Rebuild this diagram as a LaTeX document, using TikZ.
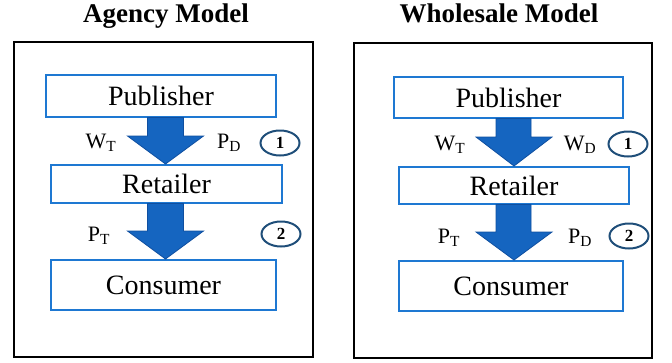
\documentclass[tikz,border=0pt]{standalone}
\usepackage{fontspec}
\setmainfont{Liberation Serif}
\usetikzlibrary{shapes.geometric}
\definecolor{boxblue}{HTML}{1E78D2}
\definecolor{arrowfill}{HTML}{1565C0}
\definecolor{arrowedge}{HTML}{0F4FA0}
\definecolor{ringblue}{HTML}{1F4E79}
\tikzset{
  frame/.style={draw=black, line width=2pt},
  actor/.style={draw=boxblue, line width=2.5pt, fill=white},
  title/.style={font=\fontsize{27}{29}\selectfont\bfseries, anchor=base, inner sep=0pt},
  actorlabel/.style={font=\fontsize{28}{30}\selectfont},
  price/.style={font=\fontsize{22}{24}\selectfont},
  stage/.style={draw=ringblue, line width=2pt, ellipse, minimum width=39pt, minimum height=25pt, inner sep=0pt,
    font=\fontsize{17}{18}\selectfont\bfseries},
  flow/.style={fill=arrowfill, draw=arrowedge, line width=0.8pt, line join=miter}
}
\begin{document}
\begin{tikzpicture}[x=1pt,y=-1pt]
\useasboundingbox (0,0) rectangle (672,362);

% ---------- Agency model ----------
\node[title] (agencyT) at (166,22) {Agency Model};
\draw[frame] (14,42) rectangle (313,357);
\path[actor] (46,75) rectangle (276,117);
\node[actorlabel] (pubA) at (161,96) {Publisher};
\path[actor] (51,165) rectangle (282,203);
\node[actorlabel] (retA) at (166.5,184) {Retailer};
\path[actor] (51,260) rectangle (276,310);
\node[actorlabel] (conA) at (163.5,285) {Consumer};
\path[flow] (147.5,117.5) -- (183.5,117.5) -- (183.5,136) -- (203.5,136) -- (165.5,164)
  -- (127.5,136) -- (147.5,136) -- cycle;
\path[flow] (147.5,203.5) -- (183.5,203.5) -- (183.5,231) -- (203.5,231) -- (165.5,259)
  -- (127.5,231) -- (147.5,231) -- cycle;
\node[price] (wtA) at (101,143) {W\textsubscript{T}};
\node[price] (pdA) at (229,143) {P\textsubscript{D}};
\node[stage] (s1A) at (280,143) {1};
\node[price] (ptA) at (99,236) {P\textsubscript{T}};
\node[stage] (s2A) at (281,234) {2};

% ---------- Wholesale model ----------
\node[title] (wholeT) at (499,22) {Wholesale Model};
\draw[frame] (354,43) rectangle (652,358);
\path[actor] (394,77) rectangle (623,118);
\node[actorlabel] (pubW) at (508.5,98) {Publisher};
\path[actor] (399,167) rectangle (629,204);
\node[actorlabel] (retW) at (514,185.5) {Retailer};
\path[actor] (399,261) rectangle (623,311);
\node[actorlabel] (conW) at (511,286) {Consumer};
\path[flow] (496,118.5) -- (531,118.5) -- (531,137) -- (552,137) -- (514,166)
  -- (476,137) -- (496,137) -- cycle;
\path[flow] (496,204.5) -- (531,204.5) -- (531,232) -- (552,232) -- (514,260)
  -- (476,232) -- (496,232) -- cycle;
\node[price] (wtW) at (450,145) {W\textsubscript{T}};
\node[price] (wdW) at (580,145) {W\textsubscript{D}};
\node[stage] (s1W) at (628,144) {1};
\node[price] (ptW) at (449,238) {P\textsubscript{T}};
\node[price] (pdW) at (580,238) {P\textsubscript{D}};
\node[stage] (s2W) at (629,236) {2};
\end{tikzpicture}
\end{document}
